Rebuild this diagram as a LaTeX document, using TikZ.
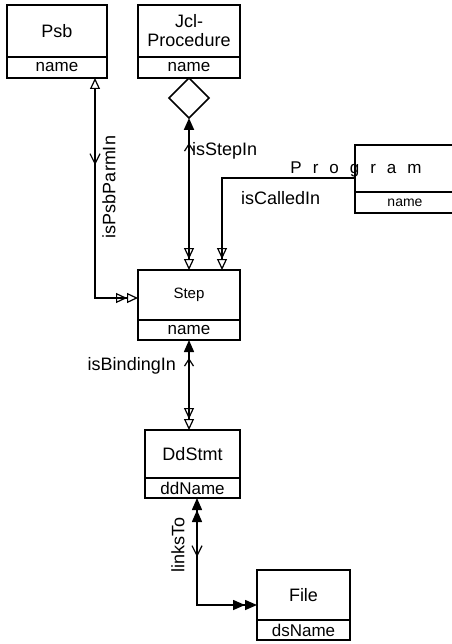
\documentclass[tikz,border=0pt]{standalone}
\usepackage{fontspec}
\setmainfont{Liberation Sans}
\usetikzlibrary{arrows.meta}
\usetikzlibrary{calc}
\usetikzlibrary{positioning}
\usetikzlibrary{shapes.geometric}
\usetikzlibrary{decorations.markings}

\tikzset{
    clsbox/.style={draw, line width=1.5pt, inner sep=0pt, outer sep=0pt, align=center,
        font=\fontsize{18}{19}\selectfont},
    attrbox/.style={draw, line width=1.5pt, inner sep=0pt, outer sep=0pt, minimum height=20pt,
        font=\fontsize{17}{18}\selectfont},
    lbl/.style={inner sep=0pt, font=\fontsize{18}{19}\selectfont},
    oT/.tip={Triangle[open,length=11pt,width=10pt,line width=1.2pt,sep=0pt]},
    fT/.tip={Triangle[length=12pt,width=10pt,sep=0pt]},
    upmid/.style={postaction={decorate,decoration={markings,
        mark=at position #1 with {\arrowreversed{Straight Barb[length=7pt,width=9pt,line width=1.2pt]}}}}},
    downmid/.style={postaction={decorate,decoration={markings,
        mark=at position #1 with {\arrow{Straight Barb[length=10pt,width=10pt,line width=1.2pt]}}}}}
}

\begin{document}
\begin{tikzpicture}[x=1pt,y=-1pt]
    \useasboundingbox (0,0) rectangle (451,644);
    \node[clsbox, minimum width=100pt, minimum height=52pt] (psb) at (57,31) {Psb};
    \node[attrbox, minimum width=100pt, minimum height=21pt, below=0pt of psb] (psba) {name};
    \node[clsbox, minimum width=102pt, minimum height=52pt] (jcl) at (189,31) {Jcl-\\Procedure};
    \node[attrbox, minimum width=102pt, minimum height=21pt, below=0pt of jcl] (jcla) {name};
    \node[draw, diamond, line width=1.5pt, inner sep=0pt, outer sep=0pt, minimum width=40pt,
        minimum height=40pt, below=0pt of jcla] (dia) {};
    \node[clsbox, minimum width=100pt, minimum height=47pt] (prog) at (405,168.5) {};
    \node[attrbox, minimum width=100pt, minimum height=21pt, below=0pt of prog,
        font=\fontsize{14}{16}\selectfont] (proga) {name};
    \node[inner sep=0pt, font={\fontsize{17}{18}\selectfont\spaceskip=11pt}] (progname) at (356,169) {P r o g r a m};
    \node[clsbox, minimum width=102pt, minimum height=50pt, font=\fontsize{15}{16}\selectfont] (stp) at (189,295) {Step};
    \node[attrbox, minimum width=102pt, below=0pt of stp] (stpa) {name};
    \node[clsbox, minimum width=95pt, minimum height=48pt] (dd) at (192.5,454) {DdStmt};
    \node[attrbox, minimum width=95pt, below=0pt of dd] (dda) {ddName};
    \node[clsbox, minimum width=93pt, minimum height=50pt] (file) at (303.5,595) {File};
    \node[attrbox, minimum width=93pt, below=0pt of file] (filea) {dsName};

    \draw[line width=2.2pt, {oT[]}-{oT[] oT[]}, downmid=87pt] ($(psba.south east)+(-12,0)$) |- ($(stp.west)+(0,3)$);
    \draw[line width=2pt, {fT[]}-{oT[] oT[]}, upmid=25pt] (dia.south) -- (stp.north);
    \draw[line width=2pt, -{oT[] oT[]}] ($(prog.south west)+(0,-14)$) -| ($(stp.north)+(33,0)$);
    \draw[line width=1.5pt, {fT[]}-{oT[] oT[]}, upmid=18pt] (stpa.south) -- (stpa.south |- dd.north);
    \draw[line width=1.5pt, {fT[] fT[]}-{fT[] fT[]}, downmid=59pt] ($(dda.south)+(4.5,0)$) |- ($(file.west)+(0,10)$);

    \node[lbl, anchor=west] (stepinlbl) at (192,151) {isStepIn};
    \node[lbl, anchor=west] (calledlbl) at (241,198) {isCalledIn};
    \node[lbl, rotate=90] (psblbl) at (109,187) {isPsbParmIn};
    \node[lbl, anchor=east] (bindlbl) at (176,366) {isBindingIn};
    \node[lbl, rotate=90] (linkslbl) at (178,545) {linksTo};
\end{tikzpicture}
\end{document}
